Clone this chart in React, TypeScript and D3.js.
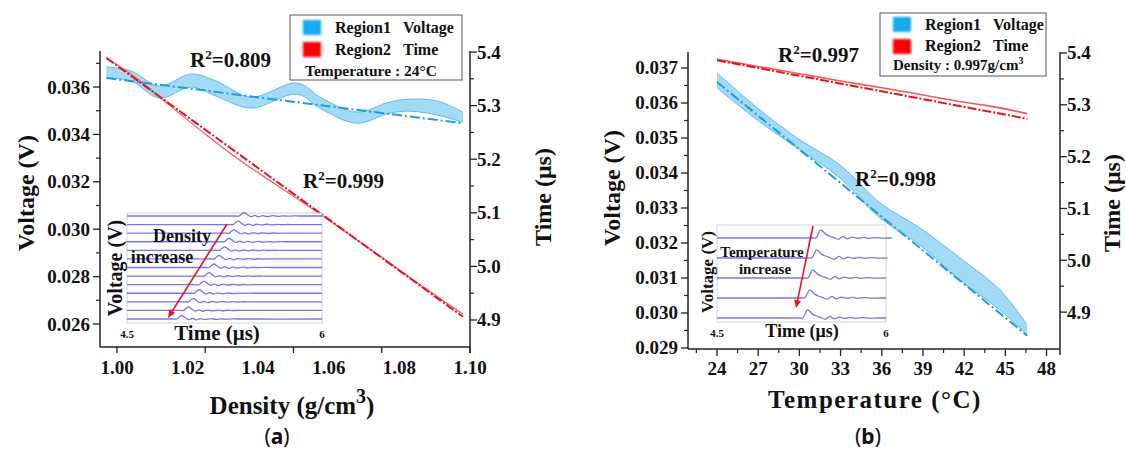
import React from "react";
import * as d3 from "d3";

// ---------------- Panel (a): density sweep (Temperature 24°C) ----------------
const densityBandA = [0.997, 1.004, 1.012, 1.021, 1.028, 1.038, 1.051, 1.058, 1.068, 1.077, 1.083, 1.091, 1.098];
const voltageUpperA = [0.03685, 0.03668, 0.03604, 0.03655, 0.03626, 0.03557, 0.03617, 0.03553, 0.03494, 0.03536, 0.03549, 0.0354, 0.03494];
const voltageLowerA = [0.03638, 0.03626, 0.03553, 0.036, 0.03562, 0.03511, 0.0357, 0.03506, 0.03447, 0.03489, 0.03498, 0.03481, 0.03451];
const densityFitA = [0.997, 1.098];
const voltageFitA = [0.03638, 0.03447];
const densityTimeA = [0.997, 1.005, 1.015, 1.025, 1.035, 1.045, 1.055, 1.065, 1.075, 1.085, 1.098];
const timeA = [5.389, 5.354, 5.3, 5.247, 5.197, 5.153, 5.109, 5.063, 5.017, 4.97, 4.911];
const timeFitA = [5.389, 4.906];
const insetArrivalA = [5.382, 5.336, 5.305, 5.267, 5.233, 5.19, 5.151, 5.113, 5.074, 5.036, 4.992, 4.954, 4.903];

const voltageTicksA = [0.026, 0.028, 0.03, 0.032, 0.034, 0.036];
const voltageMinorA = [0.027, 0.029, 0.031, 0.033, 0.035, 0.037];
const densityLabelsA = [1.0, 1.02, 1.04, 1.06, 1.08, 1.1];
const densityMarksA = [1.0, 1.025, 1.05, 1.075, 1.1];

// ---------------- Panel (b): temperature sweep (Density 0.997 g/cm³) ----------------
const tempBandB = [24, 27.13, 30.05, 32.96, 35.87, 38.78, 41.7, 44.61, 46.58];
const voltageUpperB = [0.036857, 0.0358, 0.034943, 0.034229, 0.033143, 0.032429, 0.031571, 0.030657, 0.029657];
const voltageLowerB = [0.036429, 0.035457, 0.034657, 0.033857, 0.032714, 0.031943, 0.030943, 0.030086, 0.029371];
const tempFitB = [24, 46.6];
const voltageFitB = [0.0366, 0.02935];
const tempTimeB = [24, 27, 30, 33, 36, 39, 42, 44, 46.6];
const timeB = [5.388, 5.374, 5.36, 5.346, 5.333, 5.319, 5.305, 5.297, 5.283];
const timeFitB = [5.386, 5.273];
const insetArrivalB = [5.388, 5.352, 5.317, 5.29, 5.272];

const voltageTicksB = [0.029, 0.03, 0.031, 0.032, 0.033, 0.034, 0.035, 0.036, 0.037];
const tempTicksB = [24, 27, 30, 33, 36, 39, 42, 45, 48];

// shared time axis ticks
const timeTicks = [4.9, 5.0, 5.1, 5.2, 5.3, 5.4];
const timeMinor = [4.95, 5.05, 5.15, 5.25, 5.35];

// inset waveform templates (offset in µs after arrival, relative amplitude)
const pulseOffsetA = [-0.05, -0.02, 0, 0.02, 0.04, 0.07, 0.1, 0.13, 0.16, 0.2, 0.24, 0.28, 0.32, 0.36, 0.4, 0.45];
const pulseAmpA = [0, 0, 0.6, 1, 0.5, -0.2, 0.15, -0.25, 0.1, -0.15, 0.1, -0.1, 0.05, -0.05, 0.02, 0];
const pulseOffsetB = [-0.04, -0.01, 0.01, 0.03, 0.05, 0.08, 0.11, 0.15, 0.19, 0.23, 0.27, 0.31, 0.36, 0.41, 0.46, 0.52, 0.58, 0.66];
const pulseAmpB = [0, 0, 0.5, 1, 0.85, 0.45, 0.25, 0.05, -0.15, 0.2, -0.12, 0.12, -0.05, 0.08, -0.04, 0.05, -0.02, 0];

const SERIF = "'Liberation Serif', 'Times New Roman', serif";
const SANS = "'Noto Sans', 'Open Sans', sans-serif";
const AXIS = "#222";
const BAND_FILL = "#a3daf5";
const BAND_EDGE = "#55bdee";
const BLUE_FIT = "#1a9ee2";
const RED_FIT = "#e8121c";
const RED_DATA = "#f35a5a";
const TRACE = "#7676ec";

const fmt3 = d3.format(".3f");
const fmt2 = d3.format(".2f");
const fmt1 = d3.format(".1f");

type Scale = d3.ScaleLinear<number, number>;

function LeftAxis({ x, top, bottom, scale, major, minor, fmt }: { x: number; top: number; bottom: number; scale: Scale; major: number[]; minor: number[]; fmt: (v: number) => string }) {
  return (
    <g>
      <line x1={x} x2={x} y1={top} y2={bottom} stroke={AXIS} strokeWidth={1.5} />
      {minor.map((v) => (
        <line key={"m" + v} x1={x - 4} x2={x} y1={scale(v)} y2={scale(v)} stroke={AXIS} strokeWidth={1.2} />
      ))}
      {major.map((v) => (
        <g key={v}>
          <line x1={x - 7} x2={x} y1={scale(v)} y2={scale(v)} stroke={AXIS} strokeWidth={1.3} />
          <text x={x - 10} y={scale(v) + 6.5} textAnchor="end" fontFamily={SERIF} fontWeight="bold" fontSize={19} fill="#111">
            {fmt(v)}
          </text>
        </g>
      ))}
    </g>
  );
}

function RightAxis({ x, top, bottom, scale, major, minor, fmt }: { x: number; top: number; bottom: number; scale: Scale; major: number[]; minor: number[]; fmt: (v: number) => string }) {
  return (
    <g>
      <line x1={x} x2={x} y1={top} y2={bottom + 6} stroke={AXIS} strokeWidth={1.5} />
      {minor.map((v) => (
        <line key={"m" + v} x1={x} x2={x + 4} y1={scale(v)} y2={scale(v)} stroke={AXIS} strokeWidth={1.2} />
      ))}
      {major.map((v) => (
        <g key={v}>
          <line x1={x} x2={x + 7} y1={scale(v)} y2={scale(v)} stroke={AXIS} strokeWidth={1.3} />
          <text x={x + 7} y={scale(v) + 6.5} textAnchor="start" fontFamily={SERIF} fontWeight="bold" fontSize={19} fill="#111">
            {fmt(v)}
          </text>
        </g>
      ))}
    </g>
  );
}

function Inset({ box, traceTop, traceBottom, arrivals, offsets, amps, ampPx }: { box: [number, number, number, number]; traceTop: number; traceBottom: number; arrivals: number[]; offsets: number[]; amps: number[]; ampPx: number }) {
  const [x0, y0, x1, y1] = box;
  const xs = d3.scaleLinear().domain([4.5, 6]).range([x0, x1]);
  const ys = d3.scaleLinear().domain([0, arrivals.length - 1]).range([traceTop, traceBottom]);
  const line = d3
    .line<[number, number]>()
    .x((d) => d[0])
    .y((d) => d[1])
    .curve(d3.curveCatmullRom.alpha(0.5));
  return (
    <g>
      <rect x={x0} y={y0} width={x1 - x0} height={y1 - y0} fill="#fff" stroke="#d4d4d4" strokeWidth={1} />
      {arrivals.map((t, i) => {
        const base = ys(i);
        const pts: [number, number][] = [[xs(4.5), base]];
        offsets.forEach((o, k) => pts.push([xs(t + o), base - amps[k] * ampPx]));
        pts.push([xs(6), base]);
        return <path key={i} d={line(pts) || ""} fill="none" stroke={TRACE} strokeWidth={1.3} />;
      })}
    </g>
  );
}

function R2({ x, y, value }: { x: number; y: number; value: string }) {
  return (
    <text x={x} y={y} fontFamily={SERIF} fontWeight="bold" fontSize={21} fill="#111">
      <tspan>R</tspan>
      <tspan fontSize={13} dy={-8}>2</tspan>
      <tspan dy={8}>={value}</tspan>
    </text>
  );
}

function Arrow({ x1, y1, x2, y2 }: { x1: number; y1: number; x2: number; y2: number }) {
  const ang = Math.atan2(y2 - y1, x2 - x1);
  const L = 8, Wd = 3.5;
  const bx = x2 - L * Math.cos(ang), by = y2 - L * Math.sin(ang);
  const px = -Math.sin(ang) * Wd, py = Math.cos(ang) * Wd;
  return (
    <g>
      <line x1={x1} y1={y1} x2={bx} y2={by} stroke="#e8141e" strokeWidth={1.6} />
      <path d={`M${x2},${y2} L${bx + px},${by + py} L${bx - px},${by - py} Z`} fill="#e8141e" />
    </g>
  );
}

export default function App() {
  // ---- Panel A scales
  const A = { l: 100, r: 470, t: 51, b: 347 };
  const xA = d3.scaleLinear().domain([0.9952, 1.1]).range([A.l, A.r]);
  const yLA = d3.scaleLinear().domain([0.02503, 0.03752]).range([A.b, A.t]);
  const yRA = d3.scaleLinear().domain([4.8496, 5.4019]).range([A.b, A.t]);

  // ---- Panel B scales
  const B = { l: 688, r: 1060, t: 52, b: 349 };
  const xB = d3.scaleLinear().domain([21.89, 48.98]).range([B.l, B.r]);
  const yLB = d3.scaleLinear().domain([0.028971, 0.037457]).range([B.b, B.t]);
  const yRB = d3.scaleLinear().domain([4.8288, 5.4019]).range([B.b, B.t]);

  const bandA = d3
    .area<number>()
    .x((_, i) => xA(densityBandA[i]))
    .y0((_, i) => yLA(voltageLowerA[i]))
    .y1((_, i) => yLA(voltageUpperA[i]))
    .curve(d3.curveCatmullRom.alpha(0.5));
  const edgeA = (arr: number[]) =>
    d3
      .line<number>()
      .x((_, i) => xA(densityBandA[i]))
      .y((v) => yLA(v))
      .curve(d3.curveCatmullRom.alpha(0.5))(arr) || "";

  const bandB = d3
    .area<number>()
    .x((_, i) => xB(tempBandB[i]))
    .y0((_, i) => yLB(voltageLowerB[i]))
    .y1((_, i) => yLB(voltageUpperB[i]))
    .curve(d3.curveCatmullRom.alpha(0.5));
  const edgeB = (arr: number[]) =>
    d3
      .line<number>()
      .x((_, i) => xB(tempBandB[i]))
      .y((v) => yLB(v))
      .curve(d3.curveCatmullRom.alpha(0.5))(arr) || "";

  const lineXY = (xs: number[], ys: number[], sx: Scale, sy: Scale) =>
    d3
      .line<number>()
      .x((_, i) => sx(xs[i]))
      .y((v) => sy(v))
      .curve(d3.curveMonotoneX)(ys) || "";

  const tempMinorB: number[] = [];
  for (let v = 22.5; v <= 48.9; v += 3) tempMinorB.push(v);
  const voltMinorB = voltageTicksB.slice(0, -1).map((v) => v + 0.0005);

  return (
    <svg width={1126} height={452} style={{ position: "absolute", left: 0, top: 0, background: "#fff" }}>
      <defs>
        <filter id="soft" x="-30%" y="-30%" width="160%" height="160%">
          <feGaussianBlur stdDeviation="0.9" />
        </filter>
        <clipPath id="clipA">
          <rect x={A.l} y={A.t - 10} width={A.r - A.l} height={A.b - A.t + 10} />
        </clipPath>
        <clipPath id="clipB">
          <rect x={B.l} y={B.t - 10} width={B.r - B.l} height={B.b - B.t + 10} />
        </clipPath>
      </defs>

      {/* ================= PANEL A ================= */}
      <g clipPath="url(#clipA)">
        <path d={bandA(densityBandA) || ""} fill={BAND_FILL} />
        <path d={edgeA(voltageUpperA)} fill="none" stroke={BAND_EDGE} strokeWidth={1} />
        <path d={edgeA(voltageLowerA)} fill="none" stroke={BAND_EDGE} strokeWidth={1} />
        <path d={lineXY(densityFitA, voltageFitA, xA, yLA)} fill="none" stroke={BLUE_FIT} strokeWidth={2} strokeDasharray="10,3,2,3" />
        <path d={lineXY(densityTimeA, timeA, xA, yRA)} fill="none" stroke={RED_DATA} strokeWidth={1.2} />
        <path d={lineXY(densityFitA, timeFitA, xA, yRA)} fill="none" stroke={RED_FIT} strokeWidth={2} strokeDasharray="9,2,2,2" />
      </g>

      <Inset box={[127, 213, 322, 323]} traceTop={216} traceBottom={319} arrivals={insetArrivalA} offsets={pulseOffsetA} amps={pulseAmpA} ampPx={3.5} />
      <text transform="translate(122,268) rotate(-90)" textAnchor="middle" fontFamily={SERIF} fontWeight="bold" fontSize={20} fill="#111">Voltage (V)</text>
      <text x={182} y={242} textAnchor="middle" fontFamily={SERIF} fontWeight="bold" fontSize={18} fill="#111">Density</text>
      <text x={162} y={263} textAnchor="middle" fontFamily={SERIF} fontWeight="bold" fontSize={18} fill="#111">increase</text>
      <Arrow x1={227} y1={224} x2={168} y2={318} />
      <text x={127} y={338} textAnchor="middle" fontFamily={SERIF} fontWeight="bold" fontSize={11} fill="#111">4.5</text>
      <text x={322} y={338} textAnchor="middle" fontFamily={SERIF} fontWeight="bold" fontSize={11} fill="#111">6</text>
      <text x={217} y={340} textAnchor="middle" fontFamily={SERIF} fontWeight="bold" fontSize={21} fill="#111">Time (μs)</text>

      <LeftAxis x={A.l} top={A.t} bottom={A.b} scale={yLA} major={voltageTicksA} minor={voltageMinorA} fmt={fmt3} />
      <RightAxis x={A.r} top={A.t} bottom={A.b} scale={yRA} major={timeTicks} minor={timeMinor} fmt={fmt1} />
      <line x1={A.l} x2={A.r} y1={A.b} y2={A.b} stroke={AXIS} strokeWidth={1.5} />
      {densityMarksA.map((v) => (
        <line key={v} x1={xA(v)} x2={xA(v)} y1={A.b} y2={A.b + 6} stroke={AXIS} strokeWidth={1.3} />
      ))}
      {densityLabelsA.map((v, i) => (
        <text key={v} x={117 + i * 70.6} y={374} textAnchor="middle" fontFamily={SERIF} fontWeight="bold" fontSize={19} fill="#111">
          {fmt2(v)}
        </text>
      ))}

      <text transform="translate(34,193) rotate(-90)" textAnchor="middle" fontFamily={SERIF} fontWeight="bold" fontSize={24} fill="#111">Voltage (V)</text>
      <text transform="translate(551,197) rotate(-90)" textAnchor="middle" fontFamily={SERIF} fontWeight="bold" fontSize={24} fill="#111">Time (μs)</text>
      <text x={292} y={414} textAnchor="middle" fontFamily={SERIF} fontWeight="bold" fontSize={25} fill="#111">
        <tspan>Density (g/cm</tspan>
        <tspan fontSize={20} dy={-11}>3</tspan>
        <tspan dy={11}>)</tspan>
      </text>
      <text x={277} y={444} textAnchor="middle" fontFamily={SANS} fontSize={21} fill="#111">
        (<tspan fontWeight="bold">a</tspan>)
      </text>

      <R2 x={190} y={67} value="0.809" />
      <R2 x={303} y={188} value="0.999" />

      {/* legend A */}
      <rect x={290} y={15} width={172} height={65} fill="#fff" stroke="#555" strokeWidth={1} />
      <rect x={303} y={20} width={18} height={15} fill="#17aaf3" filter="url(#soft)" />
      <rect x={303} y={42} width={18} height={15} fill="#ff0000" filter="url(#soft)" />
      <text x={335} y={33} fontFamily={SERIF} fontWeight="bold" fontSize={16} fill="#111">Region1</text>
      <text x={403} y={33} fontFamily={SERIF} fontWeight="bold" fontSize={16} fill="#111">Voltage</text>
      <text x={335} y={55} fontFamily={SERIF} fontWeight="bold" fontSize={16} fill="#111">Region2</text>
      <text x={403} y={55} fontFamily={SERIF} fontWeight="bold" fontSize={16} fill="#111">Time</text>
      <text x={305} y={76} fontFamily={SERIF} fontWeight="bold" fontSize={15.5} fill="#111">Temperature : 24°C</text>

      {/* ================= PANEL B ================= */}
      <g clipPath="url(#clipB)">
        <path d={bandB(tempBandB) || ""} fill={BAND_FILL} />
        <path d={edgeB(voltageUpperB)} fill="none" stroke={BAND_EDGE} strokeWidth={1} />
        <path d={edgeB(voltageLowerB)} fill="none" stroke={BAND_EDGE} strokeWidth={1} />
        <path d={lineXY(tempFitB, voltageFitB, xB, yLB)} fill="none" stroke={BLUE_FIT} strokeWidth={2} strokeDasharray="10,3,2,3" />
        <path d={lineXY(tempTimeB, timeB, xB, yRB)} fill="none" stroke={RED_DATA} strokeWidth={1.6} />
        <path d={lineXY(tempFitB, timeFitB, xB, yRB)} fill="none" stroke={RED_FIT} strokeWidth={2} strokeDasharray="9,2,2,2" />
      </g>

      <Inset box={[717, 225, 886, 322]} traceTop={238} traceBottom={318} arrivals={insetArrivalB} offsets={pulseOffsetB} amps={pulseAmpB} ampPx={8} />
      <text transform="translate(713,272) rotate(-90)" textAnchor="middle" fontFamily={SERIF} fontWeight="bold" fontSize={17} fill="#111">Voltage (V)</text>
      <text x={762} y={257} textAnchor="middle" fontFamily={SERIF} fontWeight="bold" fontSize={15} fill="#111">Temperature</text>
      <text x={765} y={274} textAnchor="middle" fontFamily={SERIF} fontWeight="bold" fontSize={15} fill="#111">increase</text>
      <Arrow x1={813} y1={226} x2={796} y2={308} />
      <text x={717} y={337} textAnchor="middle" fontFamily={SERIF} fontWeight="bold" fontSize={11} fill="#111">4.5</text>
      <text x={886} y={337} textAnchor="middle" fontFamily={SERIF} fontWeight="bold" fontSize={11} fill="#111">6</text>
      <text x={802} y={337} textAnchor="middle" fontFamily={SERIF} fontWeight="bold" fontSize={18} fill="#111">Time (μs)</text>

      <LeftAxis x={B.l} top={B.t} bottom={B.b} scale={yLB} major={voltageTicksB} minor={voltMinorB} fmt={fmt3} />
      <RightAxis x={B.r} top={B.t} bottom={B.b} scale={yRB} major={timeTicks} minor={timeMinor} fmt={fmt1} />
      <line x1={B.l} x2={B.r} y1={B.b} y2={B.b} stroke={AXIS} strokeWidth={1.5} />
      {tempMinorB.map((v) => (
        <line key={"m" + v} x1={xB(v)} x2={xB(v)} y1={B.b} y2={B.b + 4} stroke={AXIS} strokeWidth={1.2} />
      ))}
      {tempTicksB.map((v) => (
        <g key={v}>
          <line x1={xB(v)} x2={xB(v)} y1={B.b} y2={B.b + 7} stroke={AXIS} strokeWidth={1.3} />
          <text x={xB(v)} y={375} textAnchor="middle" fontFamily={SERIF} fontWeight="bold" fontSize={19} fill="#111">
            {v}
          </text>
        </g>
      ))}

      <text transform="translate(620,188) rotate(-90)" textAnchor="middle" fontFamily={SERIF} fontWeight="bold" fontSize={24} fill="#111">Voltage (V)</text>
      <text transform="translate(1120,203) rotate(-90)" textAnchor="middle" fontFamily={SERIF} fontWeight="bold" fontSize={24} fill="#111">Time (μs)</text>
      <text x={875} y={408} textAnchor="middle" fontFamily={SERIF} fontWeight="bold" fontSize={25} letterSpacing={1.5} fill="#111">
        Temperature (°C)
      </text>
      <text x={868} y={444} textAnchor="middle" fontFamily={SANS} fontSize={21} fill="#111">
        (<tspan fontWeight="bold">b</tspan>)
      </text>

      <R2 x={778} y={62} value="0.997" />
      <R2 x={855} y={186} value="0.998" />

      {/* legend B */}
      <rect x={880} y={13} width={166} height={63} fill="#fff" stroke="#555" strokeWidth={1} />
      <rect x={893} y={17} width={18} height={15} fill="#17aaf3" filter="url(#soft)" />
      <rect x={893} y={39} width={18} height={15} fill="#ff0000" filter="url(#soft)" />
      <text x={925} y={30} fontFamily={SERIF} fontWeight="bold" fontSize={16} fill="#111">Region1</text>
      <text x={993} y={30} fontFamily={SERIF} fontWeight="bold" fontSize={16} fill="#111">Voltage</text>
      <text x={925} y={51} fontFamily={SERIF} fontWeight="bold" fontSize={16} fill="#111">Region2</text>
      <text x={993} y={51} fontFamily={SERIF} fontWeight="bold" fontSize={16} fill="#111">Time</text>
      <text x={893} y={70} fontFamily={SERIF} fontWeight="bold" fontSize={15} fill="#111">
        <tspan>Density : 0.997g/cm</tspan>
        <tspan fontSize={10} dy={-6}>3</tspan>
      </text>
    </svg>
  );
}
